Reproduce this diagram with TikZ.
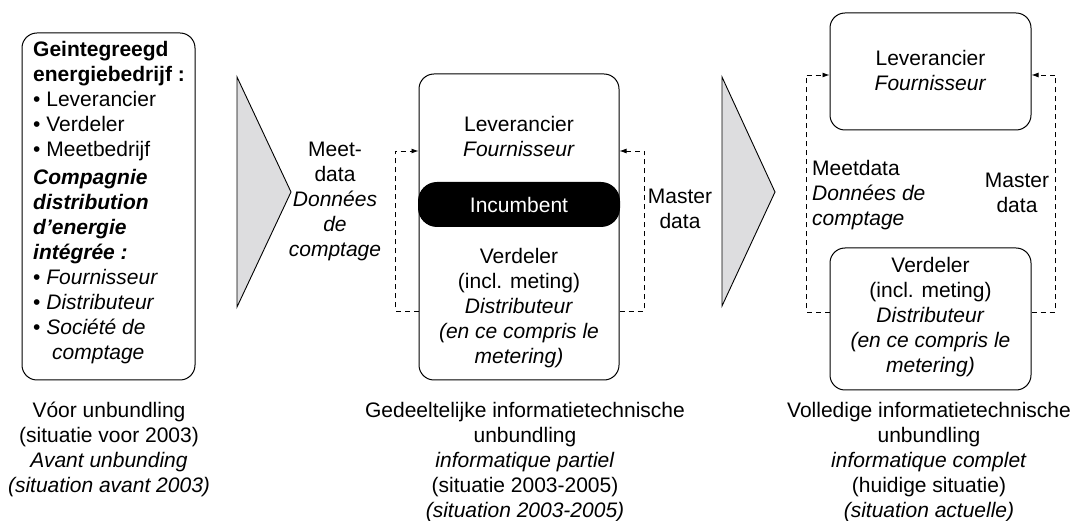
\documentclass[tikz,border=0pt]{standalone}
\usepackage{fontspec}
\setmainfont{Liberation Sans}
\usetikzlibrary{arrows.meta}
\definecolor{trifill}{RGB}{221,221,223}
\begin{document}
\begin{tikzpicture}[x=1pt,y=-1pt,
  every node/.style={font=\fontsize{21}{25}\selectfont, inner sep=0pt},
  rbox/.style={draw, line width=1pt, rounded corners=15pt},
  lbl/.style={align=center},
  dl/.style={line width=0.9pt, dash pattern=on 5pt off 4pt},
  dla/.style={dl, -{Latex[length=7pt,width=5pt]}},
  tri/.style={draw, line width=0.9pt, fill=trifill}
]
\useasboundingbox (0,0) rectangle (1080,521);

% left box
\node[rbox, minimum width=173pt, minimum height=347pt] (L) at (108.5,206.5) {};
\node[align=left, anchor=west] (Lt) at (33,203) {%
\textbf{Geintegreegd}\\
\textbf{energiebedrijf :}\\
\textbullet\ Leverancier\\
\textbullet\ Verdeler\\
\textbullet\ Meetbedrijf\\[3pt]
\textbf{\textit{Compagnie}}\\
\textbf{\textit{distribution}}\\
\textbf{\textit{d’energie}}\\
\textbf{\textit{intégrée :}}\\
\textbullet\ \textit{Fournisseur}\\
\textbullet\ \textit{Distributeur}\\
\textbullet\ \textit{Société de}\\
\hspace*{19pt}\textit{comptage}};

% first triangle
\draw[tri] (237,77) -- (291,192) -- (237,307) -- cycle;

\node[lbl] (MD1) at (335,201) {Meet-\\data\\\textit{Données}\\\textit{de}\\\textit{comptage}};

% middle box
\node[rbox, minimum width=200pt, minimum height=306pt] (M) at (519,227) {};
\node[lbl] (Mtop) at (519,136.5) {Leverancier\\\textit{Fournisseur}};
\node[fill=black, text=white, rounded corners=19pt, minimum width=202pt, minimum height=45pt] (I) at (519,204.5) {Incumbent};
\node[lbl] (Mbot) at (519,308) {Verdeler\\(incl. meting)\\\textit{Distributeur}\\\textit{(en ce compris le}\\\textit{metering)}};

\draw[dla] (M.west |- 0,311) -| (395,151) -- (M.west |- 0,151);
\draw[dla] (M.east |- 0,311) -| (644,151) -- (M.east |- 0,151);

\node[lbl] (MS1) at (680,209) {Master\\data};

% second triangle
\draw[tri] (722,77) -- (775,192) -- (722,306) -- cycle;

% right boxes
\node[rbox, minimum width=201pt, minimum height=117pt] (RT) at (930.5,71.5) {};
\node[lbl] (RTt) at (930.5,70) {Leverancier\\\textit{Fournisseur}};
\node[rbox, minimum width=201pt, minimum height=142pt] (RB) at (930.5,319) {};
\node[lbl] (RBt) at (930.5,317) {Verdeler\\(incl. meting)\\\textit{Distributeur}\\\textit{(en ce compris le}\\\textit{metering)}};

\draw[dla] (RB.west |- 0,312) -| (806,75) -- (RT.west |- 0,75);
\draw[dla] (RB.east |- 0,312) -| (1055,75) -- (RT.east |- 0,75);

\node[align=left, anchor=west] (MD2) at (812,195) {Meetdata\\\textit{Données de}\\\textit{comptage}};
\node[lbl] (MS2) at (1017,192.5) {Master\\data};

% captions
\node[lbl] (C1) at (109,449.5) {Vóor unbundling\\(situatie voor 2003)\\\textit{Avant unbunding}\\\textit{(situation avant 2003)}};
\node[lbl] (C2) at (525,462) {Gedeeltelijke informatietechnische\\unbundling\\\textit{informatique partiel}\\(situatie 2003-2005)\\\textit{(situation 2003-2005)}};
\node[lbl] (C3) at (929,462) {Volledige informatietechnische\\unbundling\\\textit{informatique complet}\\(huidige situatie)\\\textit{(situation actuelle)}};
\end{tikzpicture}
\end{document}
